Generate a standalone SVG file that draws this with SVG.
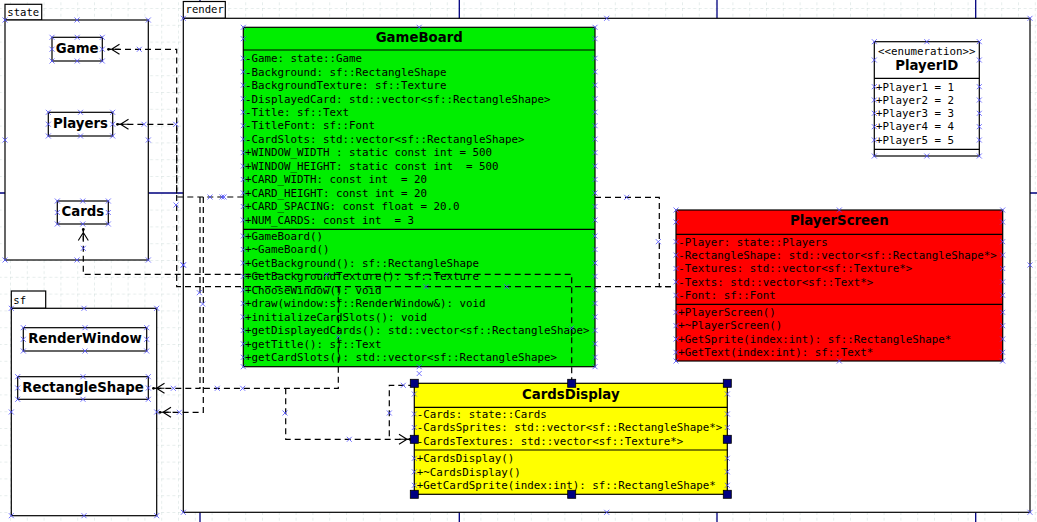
<svg xmlns="http://www.w3.org/2000/svg" width="1037" height="522" viewBox="0 0 1037 522">
<style>
.pkg{fill:#fff;stroke:#000;stroke-width:1.2}
.box{stroke:#000;stroke-width:1.2}
.sep{stroke:#000;stroke-width:1.2}
.mono{font-family:"DejaVu Sans Mono","Liberation Mono",monospace;font-size:10.8px;fill:#000;white-space:pre}
.tab{font-family:"DejaVu Sans Mono","Liberation Mono",monospace;font-size:10.6px;fill:#000}
.ttl{font-family:"DejaVu Sans","Liberation Sans",sans-serif;font-size:13.3px;font-weight:bold;fill:#000;text-anchor:middle}
.con{fill:none;stroke:#000;stroke-width:1.2;stroke-dasharray:6 4}
.page{stroke:#00007f;stroke-width:1.3}
.xm{fill:none;stroke:#5050ff;stroke-width:0.8}
.hdl{fill:#000080;stroke:#000;stroke-width:0.8}
</style>
<defs>
<pattern id="grid" patternUnits="userSpaceOnUse" x="10" y="8" width="16.8" height="16.8">
<path d="M0 0V16.8M0 0H16.8" fill="none" stroke="#cddbd9" stroke-width="1" stroke-dasharray="3 2.6"/>
</pattern>
<marker id="dep" markerUnits="userSpaceOnUse" viewBox="-13 -6 14 12" refX="0" refY="0" markerWidth="14" markerHeight="12" orient="auto" overflow="visible">
<path d="M-11-5L-3 0L-11 5M0 0H-11" fill="none" stroke="#000" stroke-width="1.1" stroke-dasharray="none"/>
<circle cx="0" cy="0" r="1.4" fill="#000"/>
</marker>
<g id="x"><path class="xm" d="M-2.5-2.5L2.5 2.5M-2.5 2.5L2.5-2.5"/></g>
</defs>

<rect width="1037" height="522" fill="#fff"/>
<rect width="1037" height="522" fill="url(#grid)"/>
<g id="pages">
<path class="page" d="M200 0V522M459.3 0V522M717 0V522M975.7 0V522M0 193H1037"/>
</g>

<g id="pkg-state">
<rect class="pkg" x="5" y="4.3" width="36.7" height="15.7"/>
<rect class="pkg" x="5" y="20" width="143.3" height="240"/>
<text class="tab" x="7.3" y="16">state</text>
</g>
<g id="pkg-render">
<rect class="pkg" x="183.3" y="1.5" width="42" height="16.8"/>
<rect class="pkg" x="183.3" y="18.3" width="846.7" height="494"/>
<text class="tab" x="185.5" y="13">render</text>
</g>
<g id="pkg-sf">
<rect class="pkg" x="11.3" y="291" width="34.4" height="17.3"/>
<rect class="pkg" x="11.3" y="308.3" width="145.4" height="207.4"/>
<text class="tab" x="13.3" y="304">sf</text>
</g>

<g id="Game">
<rect class="box" fill="#fff" x="52" y="37.3" width="50.3" height="23.7"/>
<text class="ttl" x="77.2" y="53.2">Game</text>
</g>
<g id="Players">
<rect class="box" fill="#fff" x="48.3" y="112.3" width="64.4" height="23.7"/>
<text class="ttl" x="80.5" y="128.1">Players</text>
</g>
<g id="Cards">
<rect class="box" fill="#fff" x="57.3" y="201" width="51" height="23"/>
<text class="ttl" x="82.8" y="215.8">Cards</text>
</g>
<g id="RenderWindow">
<rect class="box" fill="#fff" x="23.3" y="327.7" width="123.4" height="23.3"/>
<text class="ttl" x="85" y="343.2">RenderWindow</text>
</g>
<g id="RectangleShape">
<rect class="box" fill="#fff" x="17.7" y="376.7" width="130.6" height="22.6"/>
<text class="ttl" x="83" y="391.5">RectangleShape</text>
</g>

<g id="GameBoard">
<rect class="box" fill="#00ee00" x="243.3" y="27.3" width="351.7" height="339.4"/>
<path class="sep" d="M243.3 50H595M243.3 229.3H595"/>
<text class="ttl" x="419.2" y="41.5">GameBoard</text>
<text class="mono" x="245" y="62.1"><tspan x="245">-Game: state::Game</tspan><tspan x="245" dy="13.47">-Background: sf::RectangleShape</tspan><tspan x="245" dy="13.47">-BackgroundTexture: sf::Texture</tspan><tspan x="245" dy="13.47">-DisplayedCard: std::vector&lt;sf::RectangleShape&gt;</tspan><tspan x="245" dy="13.47">-Title: sf::Text</tspan><tspan x="245" dy="13.47">-TitleFont: sf::Font</tspan><tspan x="245" dy="13.47">-CardSlots: std::vector&lt;sf::RectangleShape&gt;</tspan><tspan x="245" dy="13.47">+WINDOW_WIDTH : static const int = 500</tspan><tspan x="245" dy="13.47">+WINDOW_HEIGHT: static const int  = 500</tspan><tspan x="245" dy="13.47">+CARD_WIDTH: const int  = 20</tspan><tspan x="245" dy="13.47">+CARD_HEIGHT: const int = 20</tspan><tspan x="245" dy="13.47">+CARD_SPACING: const float = 20.0</tspan><tspan x="245" dy="13.47">+NUM_CARDS: const int  = 3</tspan></text>
<text class="mono" x="245" y="239.8"><tspan x="245">+GameBoard()</tspan><tspan x="245" dy="13.48">+~GameBoard()</tspan><tspan x="245" dy="13.48">+GetBackground(): sf::RectangleShape</tspan><tspan x="245" dy="13.48">+GetBackgroundTexture(): sf::Texture</tspan><tspan x="245" dy="13.48">+ChooseWindow(): void</tspan><tspan x="245" dy="13.48">+draw(window:sf::RenderWindow&amp;): void</tspan><tspan x="245" dy="13.48">+initializeCardSlots(): void</tspan><tspan x="245" dy="13.48">+getDisplayedCards(): std::vector&lt;sf::RectangleShape&gt;</tspan><tspan x="245" dy="13.48">+getTitle(): sf::Text</tspan><tspan x="245" dy="13.48">+getCardSlots(): std::vector&lt;sf::RectangleShape&gt;</tspan></text>
</g>

<g id="connectors">
<path class="con" d="M243.3 197H176.7V49.3H108.5" marker-end="url(#dep)"/>
<path class="con" d="M671 286.7H176.7V124.3H117.5" marker-end="url(#dep)"/>
<path class="con" d="M571.7 383.3V274.3H83.3V229.5" marker-end="url(#dep)"/>
<path class="con" d="M595 197.3H659.3V286.7H671"/>
<path class="con" d="M200 197V388.3H153.5" marker-end="url(#dep)"/>
<path class="con" d="M338.3 286.7V388.3H200"/>
<path class="con" d="M203.3 197V412.3H160" marker-end="url(#dep)"/>
<path class="con" d="M285.7 388.3V439.3H410" marker-end="url(#dep)"/>
<path class="con" d="M414.3 385.3H389.3V439.3"/>
</g>

<g id="PlayerScreen">
<rect class="box" fill="#ff0000" x="676" y="210" width="326.7" height="151"/>
<path class="sep" d="M676 234.3H1002.7M676 304.3H1002.7"/>
<text class="ttl" x="839.3" y="224.8">PlayerScreen</text>
<text class="mono" x="678.3" y="245.5"><tspan x="678.3">-Player: state::Players</tspan><tspan x="678.3" dy="13.4">-RectangleShape: std::vector&lt;sf::RectangleShape*&gt;</tspan><tspan x="678.3" dy="13.4">-Textures: std::vector&lt;sf::Texture*&gt;</tspan><tspan x="678.3" dy="13.4">-Texts: std::vector&lt;sf::Text*&gt;</tspan><tspan x="678.3" dy="13.4">-Font: sf::Font</tspan></text>
<text class="mono" x="678.3" y="316.1"><tspan x="678.3">+PlayerScreen()</tspan><tspan x="678.3" dy="13.35">+~PlayerScreen()</tspan><tspan x="678.3" dy="13.35">+GetSprite(index:int): sf::RectangleShape*</tspan><tspan x="678.3" dy="13.35">+GetText(index:int): sf::Text*</tspan></text>
</g>

<g id="CardsDisplay">
<rect class="box" fill="#ffff00" x="414.3" y="383.3" width="313" height="111"/>
<path class="sep" d="M414.3 407.3H727.3M414.3 450H727.3"/>
<text class="ttl" x="570.8" y="398.8">CardsDisplay</text>
<text class="mono" x="416.7" y="417.8"><tspan x="416.7">-Cards: state::Cards</tspan><tspan x="416.7" dy="13.5">-CardsSprites: std::vector&lt;sf::RectangleShape*&gt;</tspan><tspan x="416.7" dy="13.5">-CardsTextures: std::vector&lt;sf::Texture*&gt;</tspan></text>
<text class="mono" x="416.7" y="462.1"><tspan x="416.7">+CardsDisplay()</tspan><tspan x="416.7" dy="13.5">+~CardsDisplay()</tspan><tspan x="416.7" dy="13.5">+GetCardSprite(index:int): sf::RectangleShape*</tspan></text>
</g>

<g id="PlayerID">
<rect class="box" fill="#fff" x="874.3" y="41.7" width="105" height="114.3"/>
<path class="sep" d="M874.3 78.3H979.3M874.3 149.3H979.3"/>
<text class="mono" x="926.8" y="55.3" text-anchor="middle">&lt;&lt;enumeration&gt;&gt;</text>
<text class="ttl" x="926.8" y="69.8">PlayerID</text>
<text class="mono" x="876" y="90.5"><tspan x="876">+Player1 = 1</tspan><tspan x="876" dy="13.33">+Player2 = 2</tspan><tspan x="876" dy="13.33">+Player3 = 3</tspan><tspan x="876" dy="13.33">+Player4 = 4</tspan><tspan x="876" dy="13.33">+Player5 = 5</tspan></text>
</g>

<g id="handles">
<rect class="hdl" x="410.3" y="379.3" width="8" height="8"/>
<rect class="hdl" x="567.7" y="379.3" width="8" height="8"/>
<rect class="hdl" x="723.3" y="379.3" width="8" height="8"/>
<rect class="hdl" x="410.3" y="435.3" width="8" height="8"/>
<rect class="hdl" x="723.3" y="435.3" width="8" height="8"/>
<rect class="hdl" x="410.3" y="490.3" width="8" height="8"/>
<rect class="hdl" x="567.7" y="490.3" width="8" height="8"/>
<rect class="hdl" x="723.3" y="490.3" width="8" height="8"/>
</g>

<g id="marks">
<use href="#x" x="5" y="20"/><use href="#x" x="77" y="20"/><use href="#x" x="148.3" y="20"/><use href="#x" x="5" y="140"/><use href="#x" x="148.3" y="140"/><use href="#x" x="5" y="260"/><use href="#x" x="77" y="260"/><use href="#x" x="148.3" y="260"/>
<use href="#x" x="52" y="37.3"/><use href="#x" x="77.2" y="37.3"/><use href="#x" x="102.3" y="37.3"/><use href="#x" x="52" y="49.2"/><use href="#x" x="102.3" y="49.2"/><use href="#x" x="52" y="61"/><use href="#x" x="77.2" y="61"/><use href="#x" x="102.3" y="61"/>
<use href="#x" x="48.3" y="112.3"/><use href="#x" x="80.5" y="112.3"/><use href="#x" x="112.7" y="112.3"/><use href="#x" x="48.3" y="124.2"/><use href="#x" x="112.7" y="124.2"/><use href="#x" x="48.3" y="136"/><use href="#x" x="80.5" y="136"/><use href="#x" x="112.7" y="136"/>
<use href="#x" x="57.3" y="201"/><use href="#x" x="82.8" y="201"/><use href="#x" x="108.3" y="201"/><use href="#x" x="57.3" y="212.5"/><use href="#x" x="108.3" y="212.5"/><use href="#x" x="57.3" y="224"/><use href="#x" x="82.8" y="224"/><use href="#x" x="108.3" y="224"/>
<use href="#x" x="183.3" y="18.3"/><use href="#x" x="606.7" y="18.3"/><use href="#x" x="1030" y="18.3"/><use href="#x" x="183.3" y="265"/><use href="#x" x="1030" y="265"/><use href="#x" x="183.3" y="512.3"/><use href="#x" x="606.7" y="512.3"/><use href="#x" x="1030" y="512.3"/>
<use href="#x" x="11.3" y="308.3"/><use href="#x" x="84" y="308.3"/><use href="#x" x="156.7" y="308.3"/><use href="#x" x="11.3" y="412"/><use href="#x" x="156.7" y="412"/><use href="#x" x="11.3" y="515.7"/><use href="#x" x="84" y="515.7"/><use href="#x" x="156.7" y="515.7"/>
<use href="#x" x="23.3" y="327.7"/><use href="#x" x="85" y="327.7"/><use href="#x" x="146.7" y="327.7"/><use href="#x" x="23.3" y="339.3"/><use href="#x" x="146.7" y="339.3"/><use href="#x" x="23.3" y="351"/><use href="#x" x="85" y="351"/><use href="#x" x="146.7" y="351"/>
<use href="#x" x="17.7" y="376.7"/><use href="#x" x="83" y="376.7"/><use href="#x" x="148.3" y="376.7"/><use href="#x" x="17.7" y="388"/><use href="#x" x="148.3" y="388"/><use href="#x" x="17.7" y="399.3"/><use href="#x" x="83" y="399.3"/><use href="#x" x="148.3" y="399.3"/>
<use href="#x" x="243.3" y="27.3"/><use href="#x" x="419.2" y="27.3"/><use href="#x" x="595" y="27.3"/><use href="#x" x="243.3" y="366.7"/><use href="#x" x="419.2" y="366.7"/><use href="#x" x="595" y="366.7"/>
<use href="#x" x="243.3" y="38.7"/><use href="#x" x="595" y="38.7"/>
<use href="#x" x="243.3" y="58.3"/><use href="#x" x="595" y="58.3"/><use href="#x" x="243.3" y="71.8"/><use href="#x" x="595" y="71.8"/><use href="#x" x="243.3" y="85.2"/><use href="#x" x="595" y="85.2"/><use href="#x" x="243.3" y="98.7"/><use href="#x" x="595" y="98.7"/><use href="#x" x="243.3" y="112.2"/><use href="#x" x="595" y="112.2"/><use href="#x" x="243.3" y="125.7"/><use href="#x" x="595" y="125.7"/><use href="#x" x="243.3" y="139.1"/><use href="#x" x="595" y="139.1"/><use href="#x" x="243.3" y="152.6"/><use href="#x" x="595" y="152.6"/><use href="#x" x="243.3" y="166.1"/><use href="#x" x="595" y="166.1"/><use href="#x" x="243.3" y="179.5"/><use href="#x" x="595" y="179.5"/><use href="#x" x="243.3" y="193"/><use href="#x" x="595" y="193"/><use href="#x" x="243.3" y="206.5"/><use href="#x" x="595" y="206.5"/><use href="#x" x="243.3" y="220"/><use href="#x" x="595" y="220"/>
<use href="#x" x="243.3" y="236"/><use href="#x" x="595" y="236"/><use href="#x" x="243.3" y="249.5"/><use href="#x" x="595" y="249.5"/><use href="#x" x="243.3" y="263"/><use href="#x" x="595" y="263"/><use href="#x" x="243.3" y="276.4"/><use href="#x" x="595" y="276.4"/><use href="#x" x="243.3" y="289.9"/><use href="#x" x="595" y="289.9"/><use href="#x" x="243.3" y="303.4"/><use href="#x" x="595" y="303.4"/><use href="#x" x="243.3" y="316.9"/><use href="#x" x="595" y="316.9"/><use href="#x" x="243.3" y="330.4"/><use href="#x" x="595" y="330.4"/><use href="#x" x="243.3" y="343.8"/><use href="#x" x="595" y="343.8"/><use href="#x" x="243.3" y="357.3"/><use href="#x" x="595" y="357.3"/>
<use href="#x" x="676" y="210"/><use href="#x" x="839.3" y="210"/><use href="#x" x="1002.7" y="210"/><use href="#x" x="676" y="361"/><use href="#x" x="839.3" y="361"/><use href="#x" x="1002.7" y="361"/><use href="#x" x="676" y="222"/><use href="#x" x="1002.7" y="222"/>
<use href="#x" x="676" y="241.7"/><use href="#x" x="1002.7" y="241.7"/><use href="#x" x="676" y="255.1"/><use href="#x" x="1002.7" y="255.1"/><use href="#x" x="676" y="268.5"/><use href="#x" x="1002.7" y="268.5"/><use href="#x" x="676" y="281.9"/><use href="#x" x="1002.7" y="281.9"/><use href="#x" x="676" y="295.3"/><use href="#x" x="1002.7" y="295.3"/>
<use href="#x" x="676" y="312.3"/><use href="#x" x="1002.7" y="312.3"/><use href="#x" x="676" y="325.7"/><use href="#x" x="1002.7" y="325.7"/><use href="#x" x="676" y="339"/><use href="#x" x="1002.7" y="339"/><use href="#x" x="676" y="352.3"/><use href="#x" x="1002.7" y="352.3"/>
<use href="#x" x="414.3" y="394"/><use href="#x" x="727.3" y="394"/><use href="#x" x="414.3" y="414"/><use href="#x" x="727.3" y="414"/><use href="#x" x="414.3" y="427.5"/><use href="#x" x="727.3" y="427.5"/><use href="#x" x="414.3" y="458.3"/><use href="#x" x="727.3" y="458.3"/><use href="#x" x="414.3" y="471.8"/><use href="#x" x="727.3" y="471.8"/><use href="#x" x="414.3" y="485.3"/><use href="#x" x="727.3" y="485.3"/>
<use href="#x" x="874.3" y="41.7"/><use href="#x" x="926.8" y="41.7"/><use href="#x" x="979.3" y="41.7"/><use href="#x" x="874.3" y="60"/><use href="#x" x="979.3" y="60"/><use href="#x" x="874.3" y="86.7"/><use href="#x" x="979.3" y="86.7"/><use href="#x" x="874.3" y="100"/><use href="#x" x="979.3" y="100"/><use href="#x" x="874.3" y="113.3"/><use href="#x" x="979.3" y="113.3"/><use href="#x" x="874.3" y="126.7"/><use href="#x" x="979.3" y="126.7"/><use href="#x" x="874.3" y="140"/><use href="#x" x="979.3" y="140"/><use href="#x" x="874.3" y="156"/><use href="#x" x="926.8" y="156"/><use href="#x" x="979.3" y="156"/>
<use href="#x" x="139.3" y="49.3"/><use href="#x" x="144" y="124.3"/><use href="#x" x="175.7" y="124.3"/><use href="#x" x="176" y="205"/><use href="#x" x="210" y="197"/><use href="#x" x="222" y="197"/><use href="#x" x="224" y="197"/>
<use href="#x" x="83.3" y="248.3"/><use href="#x" x="183.3" y="265"/><use href="#x" x="326.7" y="274.3"/><use href="#x" x="426" y="286.7"/><use href="#x" x="506.7" y="286.7"/><use href="#x" x="338.3" y="336.7"/><use href="#x" x="571.7" y="328.3"/><use href="#x" x="199.3" y="292.7"/><use href="#x" x="202.7" y="304"/>
<use href="#x" x="626.7" y="197.3"/><use href="#x" x="658.3" y="241.7"/>
<use href="#x" x="173.3" y="388.3"/><use href="#x" x="217.3" y="388.3"/><use href="#x" x="242.7" y="388.3"/><use href="#x" x="179.3" y="412.3"/><use href="#x" x="285" y="413"/><use href="#x" x="389.3" y="413"/><use href="#x" x="349.3" y="439.3"/><use href="#x" x="403.3" y="385.3"/><use href="#x" x="419.2" y="373.5"/>
</g>
</svg>
